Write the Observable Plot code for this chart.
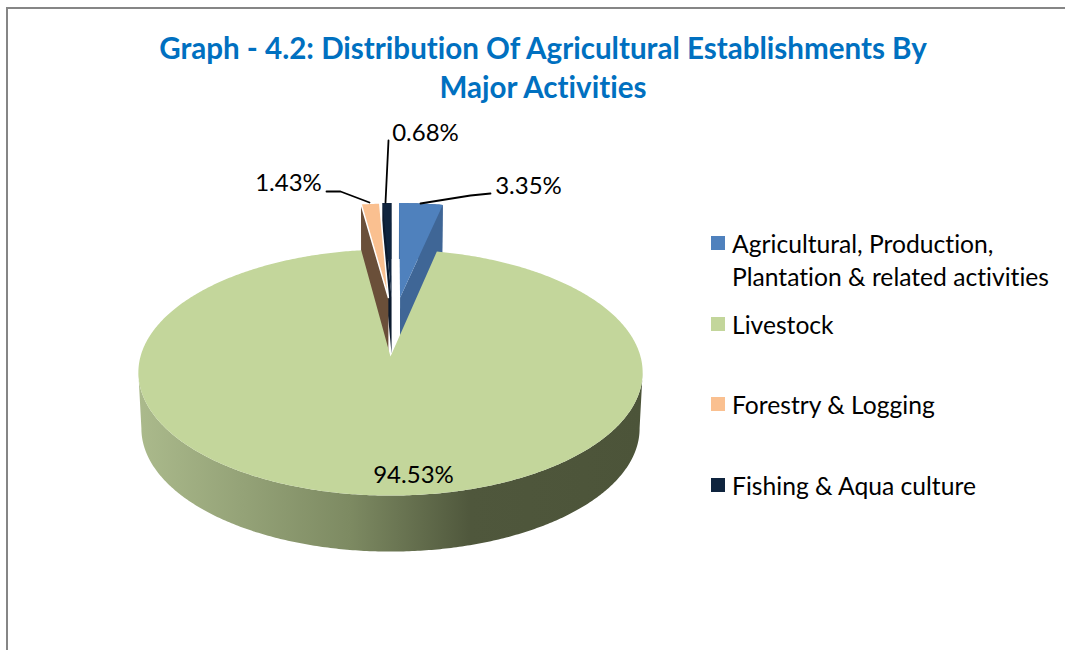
<!DOCTYPE html>
<html>
<head>
<meta charset="utf-8">
<script src="https://cdn.jsdelivr.net/npm/d3@7"></script>
<script src="https://cdn.jsdelivr.net/npm/@observablehq/plot@0.6"></script>
<style>
html,body{margin:0;padding:0;background:#fff;overflow:hidden}
#page{position:relative;width:1065px;height:650px;overflow:hidden;font-family:Lato,sans-serif;color:#000;font-variant-ligatures:none}
#page text{font-variant-ligatures:none}
#frame{position:absolute;left:6px;top:7px;width:1200px;height:800px;border:2px solid #868686;box-sizing:border-box}
#title{position:absolute;left:0;top:28px;width:1086px;text-align:center;font-weight:700;font-size:29.55px;line-height:39px;color:#0070c0}
#chart{position:absolute;left:0;top:0}
.row{position:absolute;left:711px;display:flex;align-items:flex-start;font-size:24.65px;line-height:33px;white-space:pre}
.sw{width:14px;height:14px;margin-right:7px;margin-top:9px;flex:none}
</style>
</head>
<body>
<div id="page">
<div id="frame"></div>
<div id="title"></div>
<div id="chart"></div>
</div>
<script>
const titleLines = ["Graph - 4.2: Distribution Of Agricultural Establishments By", "Major Activities"];
const categories = ["Agricultural, Production,\nPlantation & related activities", "Livestock", "Forestry & Logging", "Fishing & Aqua culture"];
const shares = [3.35, 94.53, 1.43, 0.68];
const shareLabels = ["3.35%", "94.53%", "1.43%", "0.68%"];
const colors = ["#4f81bd", "#c3d69b", "#fac090", "#0f243e"];
const wallColors = ["#3f6696", null, "#6a4f39", "#0b1a2e"];

// Layout of the tilted pie: a perspective mapping of the pie plane to the page
const X0 = 390, Y0 = 356, F = 250, G = 121, K = 0.13, DEPTH = 56, SHRINK = 0.012;
const explodeBy = [0.52, 0, 0.52, 0.52];
const explodeDir = [4.5, 0, -1, 0.5];
const sideOfWall = [1, 0, -1, -1];
const drawOrder = [3, 2, 0];

const project = (u, v, z = 0) => {
  const s = 1 / (1 + K * v);
  return [X0 + F * u * s * (1 - SHRINK * z), Y0 - G * v * s + DEPTH * z];
};
const toPlane = (x, y) => {
  const w = (Y0 - y) / G, v = w / (1 - K * w), s = 1 / (1 + K * v);
  return [(x - X0) / (F * s), v];
};
const projection = {
  stream(out) {
    return {
      point(u, v, z) { const p = project(u, v, z || 0); out.point(p[0], p[1]); },
      lineStart() { out.lineStart(); }, lineEnd() { out.lineEnd(); },
      polygonStart() { out.polygonStart(); }, polygonEnd() { out.polygonEnd(); },
      sphere() { out.sphere && out.sphere(); }
    };
  }
};

const total = d3.sum(shares);
let acc = 0;
const slices = shares.map((s, i) => {
  const a0 = acc / total * 2 * Math.PI;
  acc += s;
  const a1 = acc / total * 2 * Math.PI;
  const dir = explodeDir[i] * Math.PI / 180;
  const ox = explodeBy[i] * Math.sin(dir), oy = explodeBy[i] * Math.cos(dir);
  const n = Math.max(2, Math.ceil((a1 - a0) / 0.01));
  const rim = d3.range(n + 1).map(j => {
    const a = a0 + (a1 - a0) * j / n;
    return [ox + Math.sin(a), oy + Math.cos(a)];
  });
  return {i, apex: [ox, oy], rim};
});
const polygon = ring => ({type: "Polygon", coordinates: [[...ring, ring[0]]]});
const topFace = s => polygon([s.apex, ...s.rim]);
const at = (p, z) => [p[0], p[1], z];
const cutWall = s => {
  const e = sideOfWall[s.i] > 0 ? s.rim[s.rim.length - 1] : s.rim[0];
  return polygon([at(s.apex, 0), at(e, 0), at(e, 1), at(s.apex, 1)]);
};
const outerWall = s => {
  // only the part of the rim between its page-left and page-right extremes faces the viewer
  const xs = s.rim.map(p => project(p[0], p[1])[0]);
  const hi = d3.maxIndex(xs), lo = d3.minIndex(xs);
  const front = s.rim.slice(Math.min(hi, lo), Math.max(hi, lo) + 1);
  return polygon([...front.map(p => at(p, 0)), ...front.slice().reverse().map(p => at(p, 1))]);
};
const backWall = s => polygon([...s.rim.map(p => at(p, 0)), ...s.rim.slice().reverse().map(p => at(p, 1))]);

const gradient = () => {
  const defs = d3.create("svg:defs");
  const g = defs.append("linearGradient").attr("id", "wall").attr("x1", "0").attr("x2", "1").attr("y1", "0").attr("y2", "0");
  [[0, "#abba8c"], [0.42, "#7d8a62"], [0.66, "#4f573c"], [1, "#4c5439"]].forEach(([o, c]) =>
    g.append("stop").attr("offset", o).attr("stop-color", c));
  return defs.node();
};

// Label and leader positions on the page, carried back to the pie plane
const labelAt = [[528, 186], [413, 475], [288, 183], [425, 133]];
const leaders = [
  [[420, 203], [470, 195], [490, 193]],
  null,
  [[369, 202], [340, 191], [326, 191]],
  [[385, 202], [388, 140]]
];
const labels = shareLabels.map((t, i) => { const p = toPlane(...labelAt[i]); return {t, u: p[0], v: p[1]}; });
const leaderPts = leaders.flatMap((l, i) => l ? l.map(q => { const p = toPlane(...q); return {i, u: p[0], v: p[1]}; }) : []);

const marks = [gradient];
drawOrder.forEach(i => {
  const s = slices[i];
  marks.push(Plot.geo([backWall(s)], {fill: wallColors[i]}));
  marks.push(Plot.geo([cutWall(s)], {fill: wallColors[i]}));
  marks.push(Plot.geo([topFace(s)], {fill: colors[i], stroke: i === 2 ? "#fff" : "none", strokeWidth: 1.5}));
});
marks.push(Plot.geo([outerWall(slices[1])], {fill: "url(#wall)"}));
marks.push(Plot.geo([topFace(slices[1])], {fill: colors[1]}));
marks.push(Plot.line(leaderPts, {x: "u", y: "v", z: "i", stroke: "#000", strokeWidth: 1.8, curve: "linear"}));
marks.push(Plot.text(labels, {x: "u", y: "v", text: "t", fontSize: 24, fill: "#000", textAnchor: "middle"}));

const chart = Plot.plot({
  width: 1065, height: 650, margin: 0,
  projection,
  style: {fontFamily: "Lato, sans-serif", background: "transparent"},
  marks
});
document.getElementById("chart").append(chart);

const titleEl = document.getElementById("title");
titleLines.forEach(l => { const d = document.createElement("div"); d.textContent = l; titleEl.append(d); });

const rowTops = [227, 308, 388, 469];
const page = document.getElementById("page");
categories.forEach((c, i) => {
  const r = document.createElement("div");
  r.className = "row";
  r.style.top = rowTops[i] + "px";
  const sw = document.createElement("span");
  sw.className = "sw"; sw.style.background = colors[i];
  const t = document.createElement("span");
  t.textContent = c;
  r.append(sw, t);
  page.append(r);
});
</script>
</body>
</html>
